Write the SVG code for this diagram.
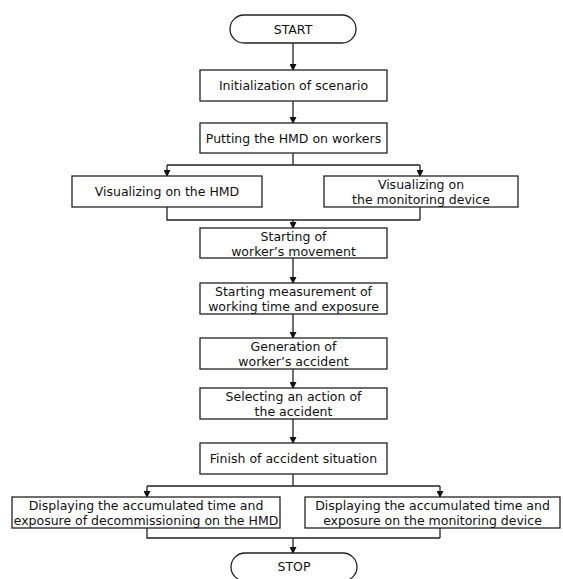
<svg xmlns="http://www.w3.org/2000/svg" width="563" height="579" viewBox="0 0 563 579">
<defs>
<marker id="ah" markerWidth="7" markerHeight="7" refX="6" refY="3.5" orient="auto" markerUnits="userSpaceOnUse">
<path d="M0,0 L7,3.5 L0,7 Z" fill="#111"/>
</marker>
<style>
.b{fill:#fff;stroke:#222;stroke-width:1.3}
.t{font-family:"DejaVu Sans","Liberation Sans",sans-serif;font-size:12.5px;fill:#111;text-anchor:middle}
.c{fill:none;stroke:#222;stroke-width:1.3}
.a{fill:none;stroke:#222;stroke-width:1.3;marker-end:url(#ah)}
</style>
</defs>
<rect width="563" height="579" fill="#fff"/>
<g id="connectors">
<line class="a" x1="293" y1="43" x2="293" y2="70"/>
<line class="a" x1="293" y1="101" x2="293" y2="123"/>
<path class="c" d="M293,153 V165 M167,165 H420"/>
<line class="a" x1="167" y1="165" x2="167" y2="176"/>
<line class="a" x1="420" y1="165" x2="420" y2="176"/>
<path class="c" d="M167,207 V220 H420 M420,207 V220"/>
<line class="a" x1="293" y1="220" x2="293" y2="228"/>
<line class="a" x1="293" y1="258" x2="293" y2="283"/>
<line class="a" x1="293" y1="314" x2="293" y2="338"/>
<line class="a" x1="293" y1="369" x2="293" y2="388"/>
<line class="a" x1="293" y1="419" x2="293" y2="443"/>
<path class="c" d="M293,474 V486 M147,486 H440"/>
<line class="a" x1="147" y1="486" x2="147" y2="497"/>
<line class="a" x1="440" y1="486" x2="440" y2="497"/>
<path class="c" d="M147,528 V538 H440 M440,528 V538"/>
<line class="a" x1="293" y1="538" x2="293" y2="553"/>
</g>
<g id="start">
<rect class="b" x="230" y="15" width="126" height="28" rx="14" ry="14"/>
<text class="t" x="293" y="33.5">START</text>
</g>
<g id="init">
<rect class="b" x="200" y="70" width="187" height="31"/>
<text class="t" x="293.5" y="90">Initialization of scenario</text>
</g>
<g id="putting">
<rect class="b" x="200" y="123" width="187" height="30"/>
<text class="t" x="293.5" y="142.5">Putting the HMD on workers</text>
</g>
<g id="vis-hmd">
<rect class="b" x="72" y="176" width="190" height="31"/>
<text class="t" x="167" y="196">Visualizing on the HMD</text>
</g>
<g id="vis-mon">
<rect class="b" x="324" y="176" width="194" height="31"/>
<text class="t" x="421" y="189">Visualizing on</text>
<text class="t" x="421" y="204">the monitoring device</text>
</g>
<g id="start-move">
<rect class="b" x="200" y="228" width="187" height="30"/>
<text class="t" x="293.5" y="240.5">Starting of</text>
<text class="t" x="293.5" y="255.5">worker’s movement</text>
</g>
<g id="measure">
<rect class="b" x="200" y="283" width="187" height="31"/>
<text class="t" x="293.5" y="296">Starting measurement of</text>
<text class="t" x="293.5" y="311">working time and exposure</text>
</g>
<g id="generation">
<rect class="b" x="200" y="338" width="187" height="31"/>
<text class="t" x="293.5" y="351">Generation of</text>
<text class="t" x="293.5" y="366">worker’s accident</text>
</g>
<g id="selecting">
<rect class="b" x="200" y="388" width="187" height="31"/>
<text class="t" x="293.5" y="401">Selecting an action of</text>
<text class="t" x="293.5" y="416">the accident</text>
</g>
<g id="finish">
<rect class="b" x="200" y="443" width="187" height="31"/>
<text class="t" x="293.5" y="463">Finish of accident situation</text>
</g>
<g id="disp-hmd">
<rect class="b" x="12" y="497" width="268" height="31"/>
<text class="t" x="146" y="510">Displaying the accumulated time and</text>
<text class="t" x="146" y="525">exposure of decommissioning on the HMD</text>
</g>
<g id="disp-mon">
<rect class="b" x="305" y="497" width="255" height="31"/>
<text class="t" x="432.5" y="510">Displaying the accumulated time and</text>
<text class="t" x="432.5" y="525">exposure on the monitoring device</text>
</g>
<g id="stop">
<rect class="b" x="231" y="553" width="126" height="28" rx="14" ry="14"/>
<text class="t" x="294" y="571">STOP</text>
</g>
</svg>
